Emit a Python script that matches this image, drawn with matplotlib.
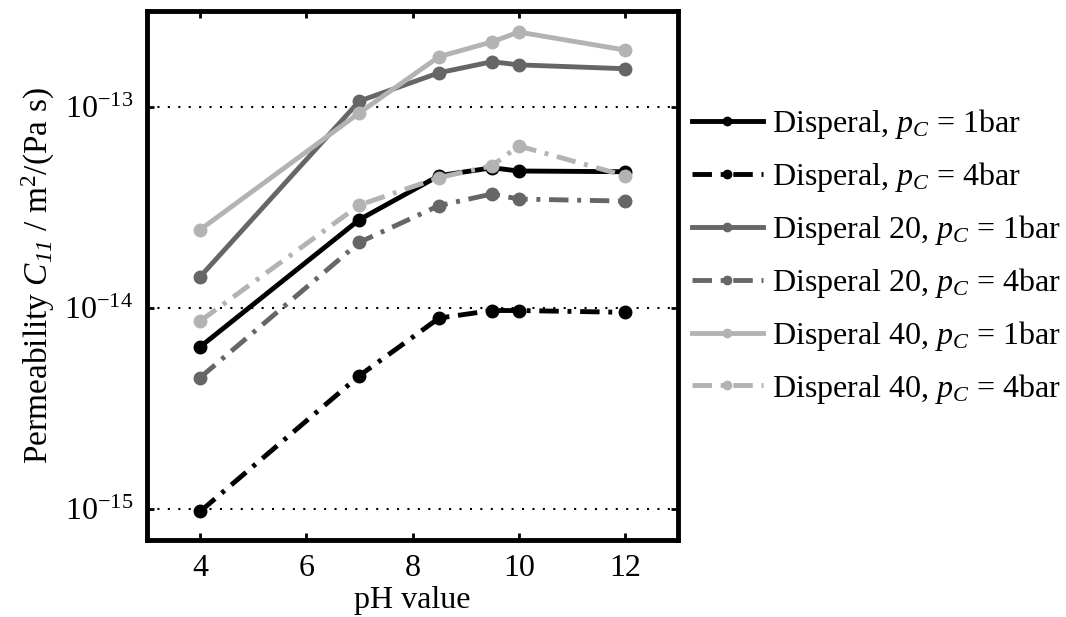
import matplotlib
matplotlib.use("Agg")
import matplotlib.pyplot as plt
from matplotlib.ticker import NullLocator, FixedLocator, LogFormatterSciNotation

plt.rcParams['font.family'] = ['Liberation Serif', 'DejaVu Serif']
plt.rcParams['mathtext.fontset'] = 'custom'
plt.rcParams['mathtext.rm'] = 'Liberation Serif'
plt.rcParams['mathtext.it'] = 'Liberation Serif:italic'
plt.rcParams['mathtext.sf'] = 'Liberation Serif:italic'
plt.rcParams['mathtext.bf'] = 'Liberation Serif:bold'
plt.rcParams['axes.unicode_minus'] = False

ph = [4, 7, 8.5, 9.5, 10, 12]
disperal_1bar = [6.4e-15, 2.75e-14, 4.55e-14, 4.98e-14, 4.8e-14, 4.76e-14]
disperal_4bar = [9.7e-16, 4.6e-15, 8.9e-15, 9.7e-15, 9.7e-15, 9.5e-15]
disperal20_1bar = [1.43e-14, 1.07e-13, 1.48e-13, 1.68e-13, 1.62e-13, 1.55e-13]
disperal20_4bar = [4.5e-15, 2.12e-14, 3.23e-14, 3.69e-14, 3.48e-14, 3.4e-14]
disperal40_1bar = [2.45e-14, 9.35e-14, 1.78e-13, 2.11e-13, 2.36e-13, 1.92e-13]
disperal40_4bar = [8.6e-15, 3.25e-14, 4.45e-14, 5.1e-14, 6.4e-14, 4.55e-14]
y_ticks = [1e-15, 1e-14, 1e-13]
x_ticks = [4, 6, 8, 10, 12]

labels = [r'Disperal, $p_C$ = 1bar', r'Disperal, $p_C$ = 4bar',
          r'Disperal 20, $p_C$ = 1bar', r'Disperal 20, $p_C$ = 4bar',
          r'Disperal 40, $p_C$ = 1bar', r'Disperal 40, $p_C$ = 4bar']
series = [disperal_1bar, disperal_4bar, disperal20_1bar, disperal20_4bar,
          disperal40_1bar, disperal40_4bar]
colors = ['#000000', '#000000', '#666666', '#666666', '#b3b3b3', '#b3b3b3']
styles = ['-', '-.', '-', '-.', '-', '-.']

fig = plt.figure(figsize=(10.66, 6.17), dpi=100)
ax = fig.add_axes([0.138, 0.125, 0.498, 0.857])

handles = []
for y, c, ls, lab in zip(series, colors, styles, labels):
    kw = {}
    if ls == '-.':
        kw['dashes'] = (4, 1.8, 0.8, 1.8)
    h, = ax.plot(ph, y, color=c, linestyle=ls, linewidth=3.5, marker='o',
                 markersize=9, label=lab, **kw)
    handles.append(h)

ax.set_yscale('log')
ax.set_xlim(3, 13)
ax.set_ylim(0.7e-15, 3e-13)
ax.set_xticks(x_ticks)
ax.yaxis.set_major_locator(FixedLocator(y_ticks))
ax.yaxis.set_major_formatter(LogFormatterSciNotation())
ax.yaxis.set_minor_locator(NullLocator())
ax.grid(True, axis='y', which='major', linestyle=(0, (1, 4)), color='black', linewidth=1.5)
ax.tick_params(direction='in', length=5, width=2, labelsize=23, top=True, right=True, pad=10)
for s in ax.spines.values():
    s.set_linewidth(3.5)

ax.set_xlabel('pH value', fontsize=23, labelpad=2)
ax.set_ylabel(r'Permeability $C_{\mathsf{11}}$ / m$^{2}$/(Pa s)', fontsize=24, labelpad=5)

leg = fig.legend(handles=handles, loc='upper left', bbox_to_anchor=(0.649, 0.826),
                 frameon=False, fontsize=23, handlelength=2.22, handletextpad=0.28,
                 labelspacing=0.59, borderaxespad=0, borderpad=0)
for lh in leg.legend_handles:
    lh.set_markersize(6)

fig.savefig('out.png', dpi=100)
